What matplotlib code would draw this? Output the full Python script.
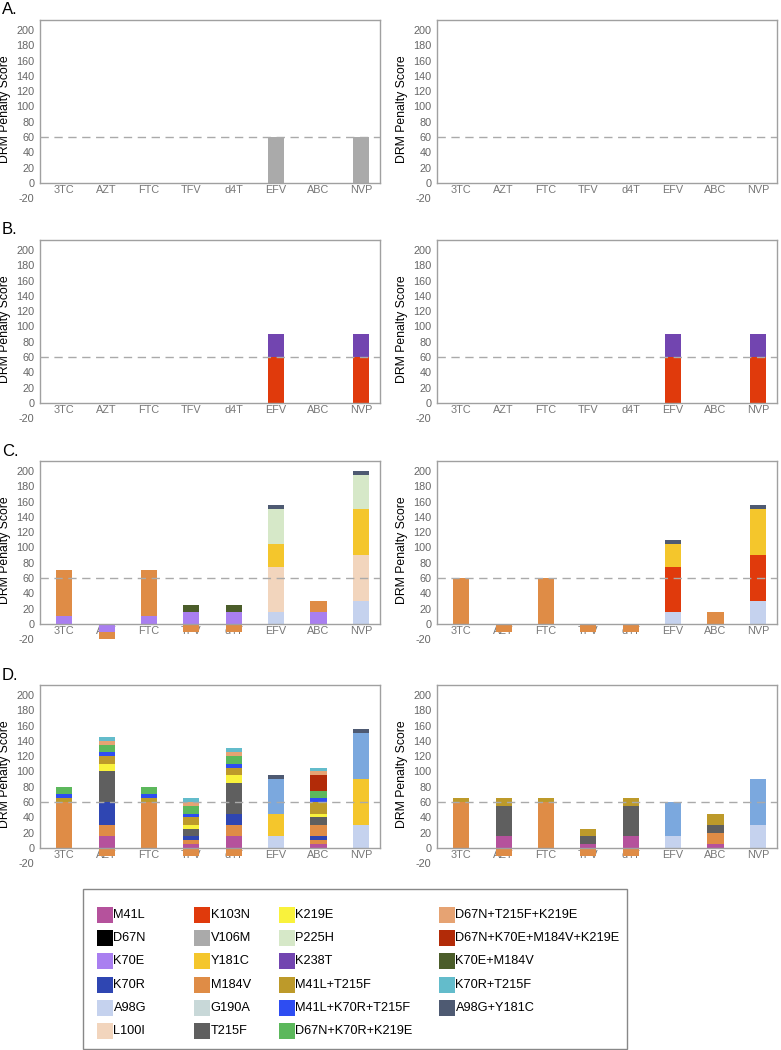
import numpy as np
import matplotlib
matplotlib.use("Agg")
import matplotlib.pyplot as plt
from matplotlib.patches import Rectangle

plt.rcParams["font.family"] = ["Liberation Sans", "DejaVu Sans"]
plt.rcParams["axes.unicode_minus"] = False

drugs = ["3TC", "AZT", "FTC", "TFV", "d4T", "EFV", "ABC", "NVP"]

# legend entries (column by column) and colours
legend_names = ["M41L", "D67N", "K70E", "K70R", "A98G", "L100I",
                "K103N", "V106M", "Y181C", "M184V", "G190A", "T215F",
                "K219E", "P225H", "K238T", "M41L+T215F", "M41L+K70R+T215F", "D67N+K70R+K219E",
                "D67N+T215F+K219E", "D67N+K70E+M184V+K219E", "K70E+M184V", "K70R+T215F", "A98G+Y181C"]
legend_colors = ["#b5529c", "#000000", "#a97ff0", "#2f46b2", "#c5d2ee", "#f2d5bd",
                 "#e03a0c", "#aaaaaa", "#f4c62c", "#df8c46", "#c8d8d8", "#5f5f5f",
                 "#f9f23c", "#d6e8c8", "#7245b0", "#bd9a2a", "#2e4df2", "#5cb85c",
                 "#e6a373", "#b22b08", "#4b5d2a", "#63bccb", "#4e5a72"]

# colours used in the bars (D67N is drawn orange, one series is not in the legend)
bar_colors = dict(zip(legend_names, legend_colors))
bar_colors["D67N"] = "#df8c46"
bar_colors["unlisted"] = "#7ba8de"

# stacking order
stack_order = ["M41L", "D67N", "K70E", "K70R", "A98G", "L100I", "K103N", "V106M",
               "Y181C", "unlisted", "M184V", "G190A", "T215F", "K219E", "P225H", "K238T",
               "M41L+T215F", "M41L+K70R+T215F", "D67N+K70R+K219E", "D67N+K70E+M184V+K219E",
               "D67N+T215F+K219E", "K70E+M184V", "K70R+T215F", "A98G+Y181C"]

# panel data: series -> penalty per drug
a_left = {"V106M": [0, 0, 0, 0, 0, 60, 0, 60]}
a_right = {}

b_left = {"K103N": [0, 0, 0, 0, 0, 60, 0, 60],
          "K238T": [0, 0, 0, 0, 0, 30, 0, 30]}
b_right = {"K103N": [0, 0, 0, 0, 0, 60, 0, 60],
           "K238T": [0, 0, 0, 0, 0, 30, 0, 30]}

c_left = {"K70E": [10, -10, 10, 15, 15, 0, 15, 0],
          "A98G": [0, 0, 0, 0, 0, 15, 0, 30],
          "L100I": [0, 0, 0, 0, 0, 60, 0, 60],
          "Y181C": [0, 0, 0, 0, 0, 30, 0, 60],
          "M184V": [60, -10, 60, -10, -10, 0, 15, 0],
          "P225H": [0, 0, 0, 0, 0, 45, 0, 45],
          "K70E+M184V": [0, 0, 0, 10, 10, 0, 0, 0],
          "A98G+Y181C": [0, 0, 0, 0, 0, 5, 0, 5]}
c_right = {"A98G": [0, 0, 0, 0, 0, 15, 0, 30],
           "K103N": [0, 0, 0, 0, 0, 60, 0, 60],
           "Y181C": [0, 0, 0, 0, 0, 30, 0, 60],
           "M184V": [60, -10, 60, -10, -10, 0, 15, 0],
           "A98G+Y181C": [0, 0, 0, 0, 0, 5, 0, 5]}

d_left = {"M41L": [0, 15, 0, 5, 15, 0, 5, 0],
          "D67N": [0, 15, 0, 5, 15, 0, 5, 0],
          "K70R": [0, 30, 0, 5, 15, 0, 5, 0],
          "A98G": [0, 0, 0, 0, 0, 15, 0, 30],
          "Y181C": [0, 0, 0, 0, 0, 30, 0, 60],
          "unlisted": [0, 0, 0, 0, 0, 45, 0, 60],
          "M184V": [60, -10, 60, -10, -10, 0, 15, 0],
          "T215F": [0, 40, 0, 10, 40, 0, 10, 0],
          "K219E": [0, 10, 0, 5, 10, 0, 5, 0],
          "M41L+T215F": [5, 10, 5, 10, 10, 0, 15, 0],
          "M41L+K70R+T215F": [5, 5, 5, 5, 5, 0, 5, 0],
          "D67N+K70R+K219E": [10, 10, 10, 10, 10, 0, 10, 0],
          "D67N+K70E+M184V+K219E": [0, 0, 0, 0, 0, 0, 20, 0],
          "D67N+T215F+K219E": [0, 5, 0, 5, 5, 0, 5, 0],
          "K70R+T215F": [0, 5, 0, 5, 5, 0, 5, 0],
          "A98G+Y181C": [0, 0, 0, 0, 0, 5, 0, 5]}
d_right = {"M41L": [0, 15, 0, 5, 15, 0, 5, 0],
           "A98G": [0, 0, 0, 0, 0, 15, 0, 30],
           "unlisted": [0, 0, 0, 0, 0, 45, 0, 60],
           "M184V": [60, -10, 60, -10, -10, 0, 15, 0],
           "T215F": [0, 40, 0, 10, 40, 0, 10, 0],
           "M41L+T215F": [5, 10, 5, 10, 10, 0, 15, 0]}

rows = [("A.", a_left, a_right), ("B.", b_left, b_right),
        ("C.", c_left, c_right), ("D.", d_left, d_right)]

W, H = 781, 1050
fig = plt.figure(figsize=(W / 100, H / 100), dpi=100)

YMIN, YMAX = -20, 213
scale = 0.765  # pixels per unit


def px_axes(x0, x1, ytop):
    ybot = ytop + (YMAX - YMIN) * scale
    return fig.add_axes([x0 / W, 1 - ybot / H, (x1 - x0) / W, (ybot - ytop) / H])


def draw_panel(ax, data):
    x = np.arange(len(drugs))
    pos_base = np.zeros(len(drugs))
    neg_base = np.zeros(len(drugs))
    for name in stack_order:
        if name not in data:
            continue
        v = np.array(data[name], dtype=float)
        p = np.clip(v, 0, None)
        n = np.clip(v, None, 0)
        if p.any():
            ax.bar(x, p, bottom=pos_base, width=0.38, color=bar_colors[name], lw=0, zorder=2)
        if n.any():
            ax.bar(x, n, bottom=neg_base, width=0.38, color=bar_colors[name], lw=0, zorder=2)
        pos_base += p
        neg_base += n
    ax.axhline(60, color="#aaaaaa", ls=(0, (6, 4)), lw=1, zorder=3)
    ax.set_xlim(-0.57, 7.45)
    ax.set_ylim(YMIN, YMAX)
    ax.set_yticks(range(-20, 201, 20))
    ax.set_xticks([])
    ax.tick_params(axis="y", length=0, labelsize=7.8, labelcolor="#666666", pad=4)
    for s in ["left", "right", "top", "bottom"]:
        ax.spines[s].set_color("#a0a0a0")
        ax.spines[s].set_linewidth(1)
    ax.spines["left"].set_bounds(0, YMAX)
    ax.spines["right"].set_bounds(0, YMAX)
    ax.spines["bottom"].set_position(("data", 0))
    for i, d in enumerate(drugs):
        ax.text(i, -9.5, d, ha="center", va="center", fontsize=7.8, color="#777777", zorder=1)
    ax.set_ylabel("DRM Penalty Score", fontsize=8.8, labelpad=4)


tops = [20, 240, 461, 685]
for (label, left, right), top in zip(rows, tops):
    axl = px_axes(40, 380, top)
    draw_panel(axl, left)
    axr = px_axes(437, 777, top)
    draw_panel(axr, right)
    fig.text(2 / W, 1 - (top - 10) / H, label, fontsize=12, va="center", ha="left")

# legend box
lx0, lx1, ly0, ly1 = 83, 627, 889, 1049
fig.patches.append(Rectangle((lx0 / W, 1 - ly1 / H), (lx1 - lx0) / W, (ly1 - ly0) / H,
                             transform=fig.transFigure, fill=False, ec="#888888", lw=1))
col_x = [97, 194, 279, 439]
row_y0, row_dy = 915, 23.2
for k, (name, col) in enumerate(zip(legend_names, legend_colors)):
    c, r = divmod(k, 6)
    cx, cy = col_x[c], row_y0 + r * row_dy
    fig.patches.append(Rectangle((cx / W, 1 - (cy + 8) / H), 16 / W, 16 / H,
                                 transform=fig.transFigure, color=col, lw=0))
    fig.text((cx + 16.5) / W, 1 - cy / H, name, fontsize=9.2, va="center", ha="left")

fig.savefig("out.png", dpi=100)
